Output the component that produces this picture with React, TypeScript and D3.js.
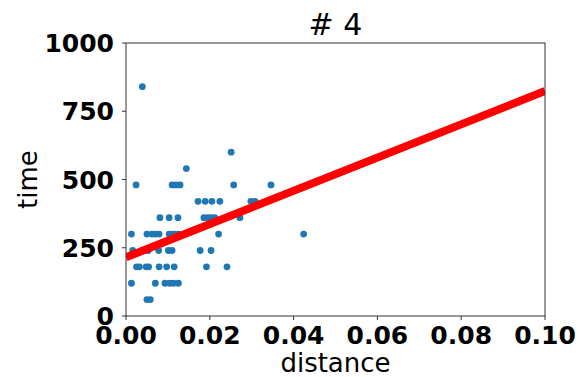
import React from "react";
import * as d3 from "d3";

// Observed trips: travel distance and time in seconds, grouped by time value
const distances: number[] = [
  0.0039,
  0.0251,
  0.0144,
  0.0024, 0.011, 0.0119, 0.0129, 0.0257, 0.0346,
  0.0172, 0.0189, 0.0205, 0.0224, 0.0298, 0.0308,
  0.0081, 0.0103, 0.0124, 0.0186, 0.0195, 0.0203, 0.0212, 0.0272,
  0.0013, 0.005, 0.0062, 0.007, 0.0079, 0.0103, 0.011, 0.0118, 0.0126, 0.0221, 0.0424,
  0.0016, 0.0053, 0.0078, 0.0101, 0.011, 0.0177, 0.0203,
  0.0025, 0.0032, 0.0048, 0.0054, 0.0079, 0.0097, 0.0115, 0.0192, 0.0241,
  0.0013, 0.007, 0.0093, 0.0104, 0.0113, 0.0125,
  0.005, 0.0058,
];
const times: number[] = [
  840,
  600,
  540,
  480, 480, 480, 480, 480, 480,
  420, 420, 420, 420, 420, 420,
  360, 360, 360, 360, 360, 360, 360, 360,
  300, 300, 300, 300, 300, 300, 300, 300, 300, 300, 300,
  240, 240, 240, 240, 240, 240, 240,
  180, 180, 180, 180, 180, 180, 180, 180, 180,
  120, 120, 120, 120, 120, 120,
  60, 60,
];

// Fitted line: time = intercept + slope * distance
const fitIntercept = 215;
const fitSlope = 6090;

const xTicks = [0, 0.02, 0.04, 0.06, 0.08, 0.1];
const yTicks = [0, 250, 500, 750, 1000];
const title = "# 4";
const xLabel = "distance";
const yLabel = "time";

const W = 581;
const H = 377;
const left = 126;
const right = 545;
const top = 43;
const bottom = 316;

export default function App() {
  const x = d3.scaleLinear().domain([0, 0.1]).range([left, right]);
  const y = d3.scaleLinear().domain([0, 1000]).range([bottom, top]);
  const points = distances.map((d, i) => ({ d, t: times[i] }));
  const fitLine = d3
    .line<number>()
    .x((d) => x(d))
    .y((d) => y(fitIntercept + fitSlope * d));
  const font = "'DejaVu Sans', sans-serif";

  return (
    <svg
      width={W}
      height={H}
      style={{ position: "absolute", left: 0, top: 0, background: "#fff" }}
      fontFamily={font}
    >
      <defs>
        <clipPath id="plotArea">
          <rect x={left} y={top} width={right - left} height={bottom - top} />
        </clipPath>
      </defs>
      <rect x={0} y={0} width={W} height={H} fill="#fff" />
      <g clipPath="url(#plotArea)">
        {points.map((p, i) => (
          <circle key={i} cx={x(p.d)} cy={y(p.t)} r={3.4} fill="#1f77b4" />
        ))}
        <path
          d={fitLine([0, 0.1]) || ""}
          stroke="#ff0000"
          strokeWidth={8}
          fill="none"
        />
      </g>
      <rect
        x={left}
        y={top}
        width={right - left}
        height={bottom - top}
        fill="none"
        stroke="#333"
        strokeWidth={1}
      />
      {xTicks.map((t) => (
        <g key={t}>
          <line x1={x(t)} x2={x(t)} y1={bottom} y2={bottom + 4} stroke="#333" />
          <text
            x={x(t)}
            y={bottom + 28}
            textAnchor="middle"
            fontSize={25}
            fontWeight="bold"
            fill="#000"
          >
            {d3.format(".2f")(t)}
          </text>
        </g>
      ))}
      {yTicks.map((t) => (
        <g key={t}>
          <line x1={left - 4} x2={left} y1={y(t)} y2={y(t)} stroke="#333" />
          <text
            x={left - 12}
            y={y(t) + 9}
            textAnchor="end"
            fontSize={25}
            fontWeight="bold"
            fill="#000"
          >
            {t}
          </text>
        </g>
      ))}
      <text x={(left + right) / 2} y={35} textAnchor="middle" fontSize={30} fill="#000">
        {title}
      </text>
      <text x={(left + right) / 2} y={372} textAnchor="middle" fontSize={26} fill="#000">
        {xLabel}
      </text>
      <text
        transform={`translate(37,${(top + bottom) / 2}) rotate(-90)`}
        textAnchor="middle"
        fontSize={26}
        fill="#000"
      >
        {yLabel}
      </text>
    </svg>
  );
}
